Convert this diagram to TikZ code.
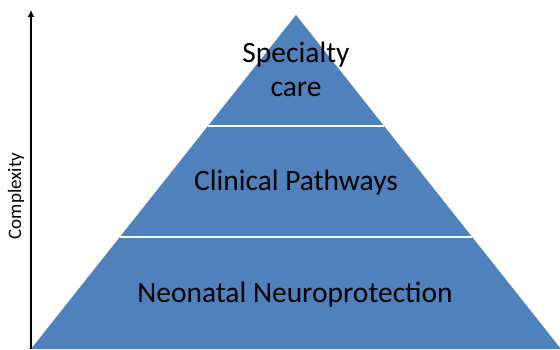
\documentclass[tikz,border=0pt]{standalone}
\usepackage{fontspec}
\setmainfont{Carlito}
\usetikzlibrary{calc,arrows.meta}
\begin{document}
\begin{tikzpicture}[x=1pt,y=1pt,
				level/.style = {font=\fontsize{29.5}{34}\selectfont, align=center, text=black},
				gap/.style = {white, line width=2pt}]
				\useasboundingbox (0,0) rectangle (560,349);
				
				\coordinate (top) at (296,334);
				\coordinate (bl) at (31,0);
				\coordinate (br) at (561,0);
				\fill[fill={rgb,255:red,79;green,129;blue,189}] (bl)--(top)--(br)--cycle;
				
				% separating lines between the levels
				\draw[gap] ($(top)!0.333!(bl)$)--($(top)!0.333!(br)$);
				\draw[gap] ($(top)!0.665!(bl)$)--($(top)!0.665!(br)$);
				
				\node[level] (1) at (296,280) {Specialty\\care};
				\node[level] (2) at (296,166) {Clinical Pathways};
				\node[level] (3) at (295,54) {Neonatal Neuroprotection};
				
				\coordinate (a) at (31,0);
				\coordinate (b) at (31,339);
				\draw[-{Latex[length=7pt,width=7pt]}, line width=1.8pt] (a)--(b);
				\node[rotate=90, font=\fontsize{19}{22}\selectfont] (c) at (16,153) {Complexity};
				\end{tikzpicture}
\end{document}
